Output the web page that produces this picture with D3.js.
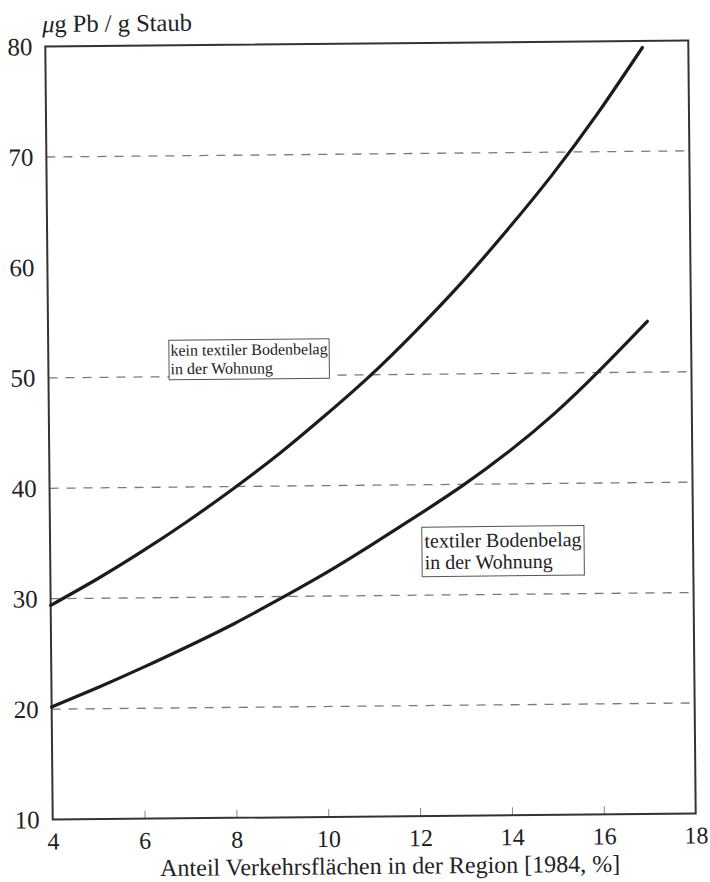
<!DOCTYPE html>
<html>
<head>
<meta charset="utf-8">
<script src="https://cdn.jsdelivr.net/npm/d3@7"></script>
<style>
  body { margin: 0; background: #fff; }
  svg { display: block; }
  svg text { font-family: "Liberation Serif", "Times New Roman", "DejaVu Serif", serif; fill: #222; }
</style>
</head>
<body>
<svg id="chart" width="710" height="882"></svg>
<script>
// Axis ticks
const xTicks = [4, 6, 8, 10, 12, 14, 16, 18];
const yTicks = [10, 20, 30, 40, 50, 60, 70, 80];
// Dashed reference lines (no line at 60)
const gridValues = [20, 30, 40, 50, 70];

// Share of traffic area in the region [1984, %]
const shareNoCarpet = [4, 5, 6, 7, 8, 9, 10, 11, 12, 13, 14, 15, 16, 17.0];
const shareCarpet   = [4, 5, 6, 7, 8, 9, 10, 11, 12, 13, 14, 15, 16, 17.05];

// µg Pb per g house dust
const leadNoCarpet = [29.4, 31.7, 34.2, 36.9, 39.8, 42.9, 46.3, 49.9, 53.9, 58.2, 62.9, 67.9, 73.4, 79.4];
const leadCarpet   = [20.2, 21.9, 23.7, 25.6, 27.6, 29.8, 32.1, 34.6, 37.2, 39.9, 42.9, 46.3, 50.2, 54.6];

const labelNoCarpet = ["kein textiler Bodenbelag", "in der Wohnung"];
const labelCarpet   = ["textiler Bodenbelag", "in der Wohnung"];

const plotLeft = 49, plotRight = 692, plotTop = 43.5, plotBottom = 816.5;

const svg = d3.select("#chart");
// slight tilt of the whole sheet
const g = svg.append("g").attr("transform", "rotate(-0.55, 370, 430)");

const x = d3.scaleLinear().domain([4, 18]).range([plotLeft, plotRight]);
const y = d3.scaleLinear().domain([10, 80]).range([plotBottom, plotTop]);

// dashed reference lines
g.append("g").selectAll("line").data(gridValues).join("line")
  .attr("x1", plotLeft).attr("x2", plotRight)
  .attr("y1", d => y(d)).attr("y2", d => y(d))
  .attr("stroke", "#7a7a7a").attr("stroke-width", 1.3)
  .attr("stroke-dasharray", "9,8");

// x axis: small inner ticks and labels
const xAxis = d3.axisBottom(x).tickValues(xTicks).tickSize(-8).tickPadding(18)
  .tickFormat(d3.format("d"));
const xg = g.append("g").attr("transform", `translate(0,${plotBottom})`).call(xAxis);
xg.select(".domain").remove();
xg.attr("font-family", null).attr("font-size", null);
xg.selectAll(".tick line").attr("stroke", "#888").attr("stroke-width", 1)
  .filter(d => d === 4 || d === 18).remove();
xg.selectAll(".tick text").style("font-size", "24px")
  .attr("dy", null).attr("y", 30);

// y axis labels
const yAxis = d3.axisLeft(y).tickValues(yTicks).tickSize(0).tickPadding(13)
  .tickFormat(d3.format("d"));
const yg = g.append("g").attr("transform", `translate(${plotLeft},0)`).call(yAxis);
yg.select(".domain").remove();
yg.attr("font-family", null).attr("font-size", null);
yg.selectAll(".tick text").style("font-size", "25px");

// frame
g.append("rect")
  .attr("x", plotLeft).attr("y", plotTop)
  .attr("width", plotRight - plotLeft).attr("height", plotBottom - plotTop)
  .attr("fill", "none").attr("stroke", "#333").attr("stroke-width", 2);

// curves
const line = d3.line().curve(d3.curveNatural).x(d => x(d[0])).y(d => y(d[1]));
const series = [
  d3.zip(shareNoCarpet, leadNoCarpet),
  d3.zip(shareCarpet, leadCarpet)
];
g.append("g").selectAll("path").data(series).join("path")
  .attr("d", line)
  .attr("fill", "none").attr("stroke", "#1c1c1c")
  .attr("stroke-width", 3.2).attr("stroke-linecap", "round");

// boxed curve labels
function boxedLabel(lines, px, py, size, lead, pad) {
  const lg = g.append("g");
  const t = lg.append("text").style("font-size", size + "px");
  lines.forEach((s, i) => {
    t.append("tspan").attr("x", px).attr("y", py + i * lead).text(s);
  });
  const bb = t.node().getBBox();
  lg.insert("rect", "text")
    .attr("x", bb.x - pad).attr("y", bb.y - pad)
    .attr("width", bb.width + 2 * pad).attr("height", bb.height + 2 * pad)
    .attr("fill", "#fff").attr("stroke", "#555").attr("stroke-width", 1);
}
boxedLabel(labelNoCarpet, x(6.66), y(51.9), 16, 18.5, 1.5);
boxedLabel(labelCarpet, x(12.15), y(34.3), 20, 21.5, 2.5);

// axis titles
const yt = g.append("text").attr("x", 46).attr("y", 29).style("font-size", "24.5px");
yt.append("tspan").attr("font-style", "italic").text("\u03bc");
yt.append("tspan").text("g Pb / g Staub");

g.append("text").attr("x", 386).attr("y", 874).attr("text-anchor", "middle")
  .style("font-size", "24px")
  .text("Anteil Verkehrsfl\u00e4chen in der Region [1984, %]");
</script>
</body>
</html>
